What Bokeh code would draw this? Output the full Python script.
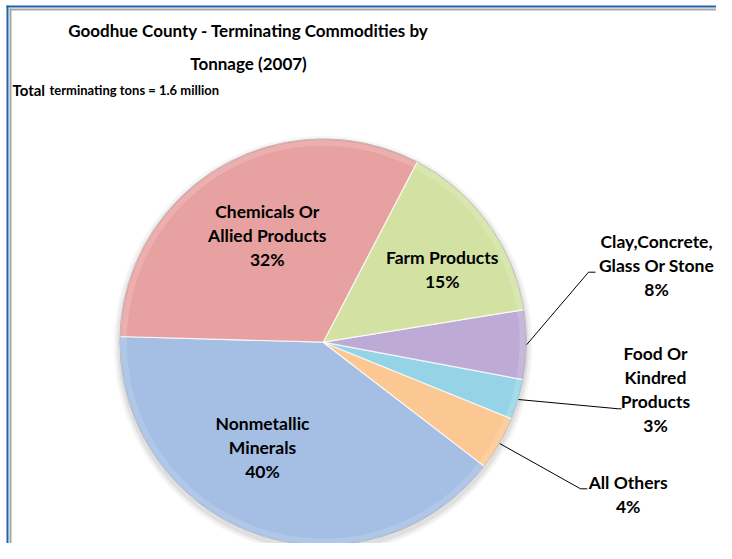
import math
from bokeh.plotting import figure
from bokeh.models import Range1d, ColumnDataSource
from bokeh.core.properties import value
from bokeh.embed import file_html
from bokeh.resources import INLINE

# ---------------- data ----------------
categories = ["Nonmetallic\nMinerals", "All Others", "Food Or\nKindred\nProducts",
              "Clay,Concrete,\nGlass Or Stone", "Farm Products", "Chemicals Or\nAllied Products"]
shares = [40.0, 4.3, 3.2, 5.5, 14.8, 32.2]          # slice sizes as drawn
pct_labels = ["40%", "4%", "3%", "8%", "15%", "32%"]  # labels as printed
title_lines = ["Goodhue County - Terminating Commodities by", "Tonnage (2007)"]
subtitle_bold = "Total"
subtitle_rest = "terminating tons = 1.6 million"

# ---------------- layout ----------------
W, H = 716, 543
def X(px): return px
def Y(py): return H - py

colors = ["#A4BEE4", "#FBC792", "#95D4E6", "#BDABD5", "#D3E2A3", "#E7A1A0"]
CX, CY, R = X(322.7), Y(341.7), 203.5
START = math.radians(178.4)
label_pos = [(262, 446.5), (627.7, 493.5), (655, 389), (656, 264.6), (441.7, 269), (266.7, 234.5)]
leader = [None, (580, 488.3, 586.7), (618, 408.3, 621), (588, 271.7, 595), None, None]
LINE_H = 24
FONT = value("Lato")

total = sum(shares)
starts, ends = [], []
a = START
for s in shares:
    starts.append(a)
    a += 2 * math.pi * s / total
    ends.append(a)

p = figure(width=W, height=H, x_range=Range1d(0, W), y_range=Range1d(0, H),
           output_backend="svg", toolbar_location=None,
           x_axis_location=None, y_axis_location=None, min_border=0)
p.grid.visible = False
p.outline_line_color = None
p.background_fill_color = "white"
p.border_fill_color = "white"

# frame lines (blue outer, gray inner)
p.quad(left=[X(6), X(6)], right=[X(8), W], bottom=[0, Y(7)], top=[Y(5), Y(5)],
       fill_color="#1E62B0", line_color=None)
p.quad(left=[X(9), X(9)], right=[X(11), W], bottom=[0, Y(10)], top=[Y(8), Y(8)],
       fill_color="#A6A6A6", line_color=None)

# shadow
for k, al in [(6, 0.03), (4, 0.04), (2, 0.06)]:
    p.circle(x=[CX], y=[CY - 3], radius=R + k, fill_color="black", fill_alpha=al, line_color=None)

src = ColumnDataSource(dict(start=starts, end=ends, color=colors))
p.wedge(x=CX, y=CY, radius=R, start_angle="start", end_angle="end", fill_color="color",
        line_color="white", line_width=1.2, line_alpha=0.8, source=src)
p.annular_wedge(x=CX, y=CY, inner_radius=R - 7, outer_radius=R - 1.5, start_angle="start",
                end_angle="end", fill_color="white", fill_alpha=0.15, line_color=None, source=src)
p.circle(x=[CX], y=[CY], radius=R, fill_color=None, line_color="#8a8a8a", line_alpha=0.5, line_width=1)

# labels
tx, ty, tt = [], [], []
for cat, pct, (lx, ly) in zip(categories, pct_labels, label_pos):
    lines = cat.split("\n") + [pct]
    n = len(lines)
    for i, ln in enumerate(lines):
        tx.append(X(lx))
        ty.append(Y(ly + (i - (n - 1) / 2) * LINE_H))
        tt.append(ln)
p.text(x="x", y="y", text="t", source=ColumnDataSource(dict(x=tx, y=ty, t=tt)),
       text_font=FONT, text_font_style="bold", text_font_size="17.5px",
       text_align="center", text_baseline="middle", text_color="black")

# leader lines
lxs, lys = [], []
for st, en, ld in zip(starts, ends, leader):
    if ld is None:
        continue
    m = (st + en) / 2
    sx, sy = CX + R * math.cos(m), CY + R * math.sin(m)
    ex, ey, hx = ld
    lxs.append([sx, X(ex), X(hx)])
    lys.append([sy, Y(ey), Y(ey)])
p.multi_line(xs=lxs, ys=lys, line_color="black", line_width=1)

# title
p.text(x=[X(248), X(248)], y=[Y(29.5), Y(62.5)], text=title_lines,
       text_font=FONT, text_font_style="bold", text_font_size="17px",
       text_align="center", text_baseline="middle", text_color="black")
p.text(x=[X(12)], y=[Y(89.5)], text=[subtitle_bold], text_font=FONT, text_font_style="bold",
       text_font_size="15px", text_align="left", text_baseline="middle", text_color="black")
p.text(x=[X(49)], y=[Y(89.5)], text=[subtitle_rest], text_font=FONT, text_font_style="bold",
       text_font_size="13px", text_align="left", text_baseline="middle", text_color="black")

open("out.html", "w").write(file_html(p, INLINE))
